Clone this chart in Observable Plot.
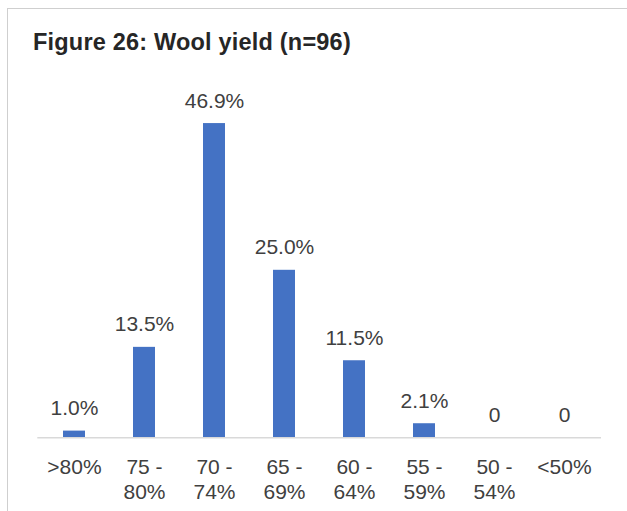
<!DOCTYPE html>
<html><head><meta charset="utf-8">
<script src="https://cdn.jsdelivr.net/npm/d3@7"></script>
<script src="https://cdn.jsdelivr.net/npm/@observablehq/plot@0.6"></script>
<style>
html,body{margin:0;padding:0;background:#fff;}
#wrap{position:relative;width:627px;height:511px;overflow:hidden;font-family:"Liberation Sans",Arial,sans-serif;}
#frame{position:absolute;left:7px;top:8px;width:700px;height:600px;border-left:1px solid #cfcfcf;border-top:1px solid #cfcfcf;}
#title{position:relative;height:70px;box-sizing:border-box;padding:31.2px 0 0 33px;font-weight:bold;font-size:23.5px;letter-spacing:0.2px;line-height:23px;color:#262626;margin:0;white-space:nowrap;}
#chart{position:relative;height:441px;}
</style></head>
<body><div id="wrap"><div id="frame"></div><div id="title">Figure 26: Wool yield (n=96)</div><div id="chart"></div></div>
<script>
const categories = [">80%", "75 - 80%", "70 - 74%", "65 - 69%", "60 - 64%", "55 - 59%", "50 - 54%", "<50%"];
const tickLabels = [">80%", "75 -\n80%", "70 -\n74%", "65 -\n69%", "60 -\n64%", "55 -\n59%", "50 -\n54%", "<50%"];
const values = [1.0, 13.5, 46.9, 25.0, 11.5, 2.1, 0, 0];
const valueLabels = ["1.0%", "13.5%", "46.9%", "25.0%", "11.5%", "2.1%", "0", "0"];

const data = categories.map((c, i) => ({category: c, value: values[i], label: valueLabels[i]}));

const chart = Plot.plot({
  width: 627,
  height: 441,
  marginLeft: 37.3,
  marginRight: 26,
  marginTop: 32.3,
  marginBottom: 73.7,
  style: {fontFamily: "'Liberation Sans', Arial, sans-serif", background: "transparent", overflow: "visible"},
  x: {domain: categories, paddingInner: 0.688, paddingOuter: 0.344},
  y: {domain: [0, 50], axis: null},
  marks: [
    Plot.barY(data, {x: "category", y: "value", fill: "#4472C4"}),
    Plot.ruleY([0], {stroke: "#d9d9d9", strokeWidth: 1.5}),
    Plot.text(data, {x: "category", y: "value", text: "label", dy: -16, lineAnchor: "bottom", fontSize: 21, fill: "#404040"}),
    Plot.axisX({
      tickSize: 0,
      tickPadding: 18,
      tickFormat: d => tickLabels[categories.indexOf(d)],
      fontSize: 21,
      lineHeight: 1.19,
      fill: "#404040",
      label: null
    })
  ]
});
document.getElementById("chart").appendChild(chart);
</script>
</body></html>
